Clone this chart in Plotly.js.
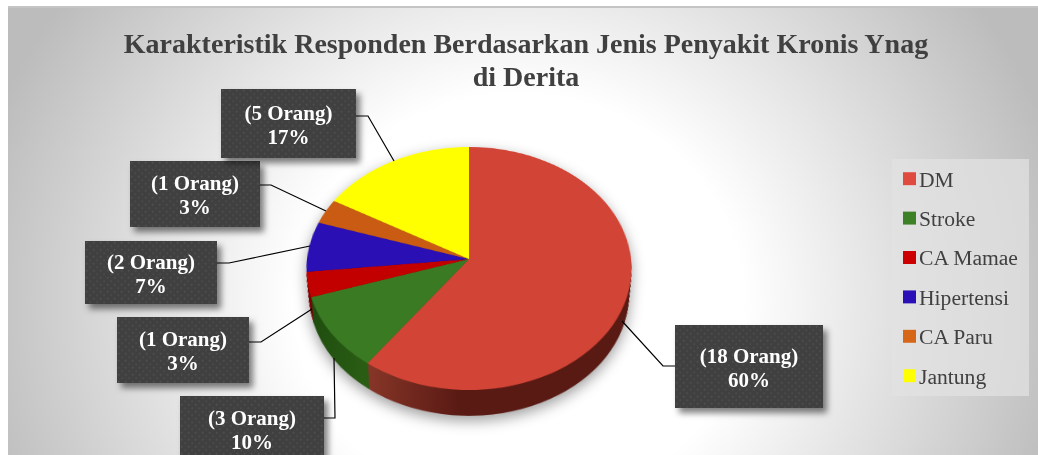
<!DOCTYPE html>
<html>
<head>
<meta charset="utf-8">
<script src="https://cdn.plot.ly/plotly-3.0.1.min.js"></script>
<style>
  html,body{margin:0;padding:0;background:#fff;width:1038px;height:455px;overflow:hidden}
  #panel{position:absolute;left:8px;top:6px;width:1030px;height:449px;box-sizing:border-box;border-top:2px solid #c4c4c4;
    background:radial-gradient(ellipse 560px 520px at 511px 294px,#fff 40%,#bcbcbc 100%)}
  #pieWrap{position:absolute;left:0;top:0;width:1038px;height:455px;filter:drop-shadow(0 5px 7px rgba(0,0,0,.38));overflow:hidden}
  #pie{position:absolute;left:269px;top:59px;width:400px;height:400px;transform-origin:200px 200px;
    transform:perspective(1381px) rotateX(41.8deg)}
  #chart{position:absolute;left:0;top:0;width:1038px;height:455px}
  #chart .pielayer{display:none}
</style>
</head>
<body>
<div id="panel"></div>
<div id="pieWrap"><div id="pie"></div></div>
<div id="chart"></div>
<script>
const categories = ["DM","Stroke","CA Mamae","Hipertensi","CA Paru","Jantung"];
const orang = [18,3,1,2,1,5];
const faceColors = ["#d24436","#3a7a22","#c30000","#2a0fb5","#c95c12","#ffff00"];
const rimColors = ["#5a1a14","#1f4d0f","#7a0000","#180868","#7a380a","#999900"];
const legendColors = ["#e04b3f","#3c8126","#cc0000","#2b10b8","#d66718","#ffff00"];
const titleText = "Karakteristik Responden Berdasarkan Jenis Penyakit Kronis Ynag<br>di Derita";

const total = orang.reduce((a,b)=>a+b,0);
const boxLabels = orang.map(v => "(" + v + " Orang)<br>" + Math.round(v/total*100) + "%");

const W = 1038, H = 455;
const px = x => x/W, py = y => 1 - y/H;

// label boxes, in picture pixels: left, top, width, height
const boxes = [[675,325,148,83],[180,396,144,65],[117,317,132,66],[85,241,132,63],[130,161,130,66],[221,89,135,69]];
// leader lines, in picture pixels
const leaders = [
  [[675,366],[663,366],[622,321]],
  [[324,418],[335,418],[334,358]],
  [[249,342],[261,342],[312,309]],
  [[217,263],[229,263],[310,246]],
  [[260,185],[271,185],[326,211]],
  [[356,116],[368,116],[394,161]]
];

// ---- tilted pie: the rim layers, then the top face
const S = 400, R = 162, depth = 34, step = 2;
const pieTraces = [];
for (let d = depth; d >= 0; d -= step) {
  const r = R - d*0.15;
  pieTraces.push({
    type:"pie", labels:categories, values:orang, sort:false, direction:"clockwise", rotation:0,
    textinfo:"none", hoverinfo:"skip", showlegend:false,
    marker:{colors: d===0 ? faceColors : rimColors, line:{width:0}},
    domain:{x:[(S/2-r)/S,(S/2+r)/S], y:[(S/2-r-d)/S,(S/2+r-d)/S]}
  });
}
const pieLayout = {width:S,height:S,margin:{l:0,r:0,t:0,b:0},paper_bgcolor:"rgba(0,0,0,0)",showlegend:false};

// ---- title, legend, label boxes and leader lines
const serif = "'Liberation Serif','Times New Roman',serif";
const annotations = boxes.map((b,i)=>({
  xref:"paper",yref:"paper",x:px(b[0]),y:py(b[1]),xanchor:"left",yanchor:"top",
  width:b[2],height:b[3],borderpad:0,borderwidth:0,showarrow:false,align:"center",valign:"middle",
  bgcolor:"#404040",text:boxLabels[i],font:{family:serif,size:21,color:"#fff",weight:"bold"}
}));
const shapes = leaders.map(l=>({
  type:"path",xref:"paper",yref:"paper",
  path:l.map((p,i)=>(i?"L":"M")+px(p[0])+","+py(p[1])).join(" "),
  line:{color:"#000",width:1.2},layer:"above"
}));
const layout = {
  width:W,height:H,margin:{l:0,r:0,t:0,b:0},paper_bgcolor:"rgba(0,0,0,0)",plot_bgcolor:"rgba(0,0,0,0)",
  title:{text:titleText,font:{family:serif,size:28,color:"#404040",weight:"bold"},
    x:526/W,xanchor:"center",xref:"paper",y:py(53),yanchor:"middle",yref:"paper"},
  showlegend:true,
  legend:{x:px(892),xanchor:"left",y:py(159),yanchor:"top",bgcolor:"rgba(226,226,226,.72)",borderwidth:0,
    font:{family:serif,size:21.6,color:"#404040"}},
  annotations, shapes
};
const legendTrace = {type:"pie",labels:categories,values:orang,sort:false,direction:"clockwise",textinfo:"none",hoverinfo:"skip",
  marker:{colors:legendColors,line:{width:0}},domain:{x:[.5,.51],y:[.5,.51]}};

Promise.all([
  Plotly.newPlot("pie",pieTraces,pieLayout,{staticPlot:true}),
  Plotly.newPlot("chart",[legendTrace],layout,{staticPlot:true})
]).then(()=>{
  const NS = "http://www.w3.org/2000/svg";
  // rim gradient on the largest slice
  const pieSvg = document.querySelector("#pie .main-svg");
  const pd = document.createElementNS(NS,"defs");
  pd.innerHTML = '<linearGradient id="rimRed" gradientUnits="userSpaceOnUse" x1="100" y1="0" x2="190" y2="0">'+
    '<stop offset="0" stop-color="#8a3829"/><stop offset="1" stop-color="#5a1a14"/></linearGradient>'+
    '<linearGradient id="rimGreen" gradientUnits="userSpaceOnUse" x1="50" y1="0" x2="100" y2="0">'+
    '<stop offset="0" stop-color="#1f4d0f"/><stop offset="1" stop-color="#2a5c14"/></linearGradient>';
  pieSvg.insertBefore(pd,pieSvg.firstChild);
  const pieGroups = document.querySelectorAll("#pie .pielayer .trace");
  pieGroups.forEach((g,i)=>{
    if(i===pieGroups.length-1) return;
    const sl = g.querySelectorAll(".slice path.surface");
    if(sl[0]) sl[0].style.fill="url(#rimRed)";
    if(sl[1]) sl[1].style.fill="url(#rimGreen)";
  });
  // dotted fill and soft shadow of the label boxes
  const chartSvg = document.querySelector("#chart .main-svg");
  const d = document.createElementNS(NS,"defs");
  d.innerHTML = '<pattern id="dots" patternUnits="userSpaceOnUse" width="7" height="7">'+
    '<rect width="7" height="7" fill="#404040"/><circle cx="1.7" cy="1.7" r="1" fill="#4e4e4e"/><circle cx="5.2" cy="5.2" r="1" fill="#4a4a4a"/></pattern>';
  chartSvg.insertBefore(d,chartSvg.firstChild);
  document.querySelectorAll("#chart .annotation rect.bg").forEach(r=>{
    r.style.fill="url(#dots)";
    r.style.filter="drop-shadow(4px 5px 3px rgba(0,0,0,.5))";
  });
  document.querySelectorAll("#chart .annotation-text").forEach(t=>{
    t.querySelectorAll("tspan.line").forEach(s=>{
      if(parseFloat(s.getAttribute("dy"))>0) s.setAttribute("dy","1.13em");
    });
    const old = t.getAttribute("transform")||"";
    t.setAttribute("transform","translate(0,3) "+old);
  });
  // title line spacing
  const tt = document.querySelector("#chart .gtitle");
  if(tt) tt.querySelectorAll("tspan.line").forEach(s=>{
    if(parseFloat(s.getAttribute("dy"))>0) s.setAttribute("dy","1.18em");
  });
  // legend spacing and box, as in the reference
  const sb = document.querySelector("#chart .legend .scrollbox");
  if(sb) sb.removeAttribute("clip-path");
  const bg = document.querySelector("#chart .legend rect.bg");
  bg.setAttribute("width",137); bg.setAttribute("height",237);
  document.querySelectorAll("#chart .legend .traces").forEach((t,i)=>{
    t.setAttribute("transform","translate(0,"+(19.2+39.4*i)+")");
    const sw = t.querySelector("path.legendpie");
    if(sw) sw.setAttribute("transform","translate(17.5,0.5) scale(1.08)");
    const tx = t.querySelector("text.legendtext");
    if(tx) tx.setAttribute("x",27);
  });
});
</script>
</body>
</html>
